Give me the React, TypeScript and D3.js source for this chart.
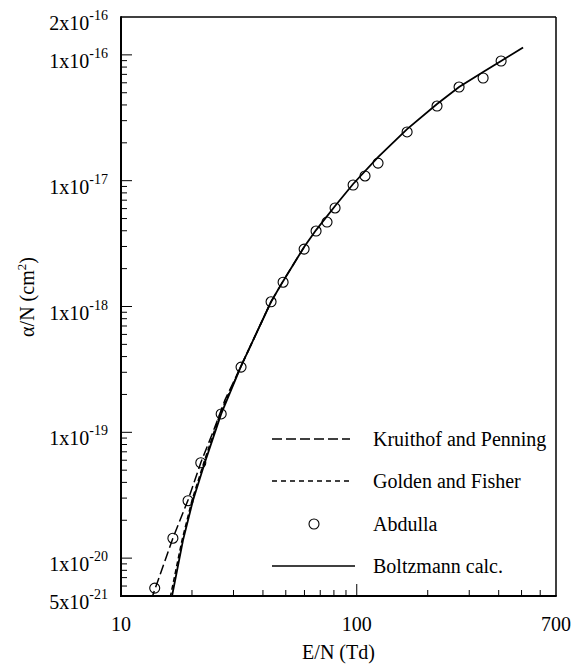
import React from "react";
import * as d3 from "d3";

// Abdulla measurements (E/N in Td, alpha/N in cm^2)
const abdullaX = [13.9, 16.6, 19.25, 21.8, 26.6, 32.3, 43.3, 48.7, 59.8, 67.2, 74.8, 80.9, 96.5, 108.4, 123.1, 163.5, 219, 271.6, 343.5, 409.5];
const abdullaY = [5.78e-21, 1.44e-20, 2.86e-20, 5.73e-20, 1.4e-19, 3.3e-19, 1.09e-18, 1.56e-18, 2.86e-18, 3.98e-18, 4.69e-18, 6.07e-18, 9.24e-18, 1.09e-17, 1.38e-17, 2.44e-17, 3.92e-17, 5.55e-17, 6.55e-17, 8.94e-17];

// Boltzmann calculation
const boltzX = [16.2, 16.46, 18.33, 20.21, 22.72, 26.6, 32.3, 43.3, 48.7, 59.8, 67.2, 80.9, 96.5, 123.1, 163.5, 219, 271.6, 343.5, 409.5, 507.6];
const boltzY = [4.2e-21, 5e-21, 1.39e-20, 2.89e-20, 5.8e-20, 1.4e-19, 3.36e-19, 1.09e-18, 1.59e-18, 2.97e-18, 4.05e-18, 6.29e-18, 9.41e-18, 1.54e-17, 2.57e-17, 4.07e-17, 5.55e-17, 7.31e-17, 8.94e-17, 1.144e-16];

// Kruithof and Penning
const kruiX = [13.4, 16.6, 19.25, 21.85, 24.56, 27.62, 32.3, 43.3, 48.7, 59.8];
const kruiY = [4.6e-21, 1.44e-20, 2.9e-20, 5.8e-20, 1.005e-19, 1.81e-19, 3.36e-19, 1.09e-18, 1.59e-18, 2.97e-18];

// Golden and Fisher
const goldX = [16.0, 16.22, 18.15, 20.01, 22.5, 26.3, 32.3, 43.3];
const goldY = [4.2e-21, 5e-21, 1.39e-20, 2.89e-20, 5.8e-20, 1.4e-19, 3.36e-19, 1.09e-18];

const xTickLabels = [10, 100, 700];
const yLabelValues = [5e-21, 1e-20, 1e-19, 1e-18, 1e-17, 1e-16, 2e-16];
const yLabelMantissa = ["5", "1", "1", "1", "1", "1", "2"];
const yLabelExponent = ["-21", "-20", "-19", "-18", "-17", "-16", "-16"];

const legendNames = ["Kruithof and Penning", "Golden and Fisher", "Abdulla", "Boltzmann calc."];

const W = 573, H = 666;
const L = 121, R = 556, T = 17, B = 596;
const FONT = "'Liberation Serif', 'Times New Roman', serif";

export default function App() {
  const x = d3.scaleLog().domain([10, 700]).range([L, R]);
  const y = d3.scaleLog().domain([5e-21, 2e-16]).range([B, T]);

  const line = d3.line<[number, number]>().x((d) => x(d[0])).y((d) => y(d[1]));
  const zip = (a: number[], b: number[]) => a.map((v, i) => [v, b[i]] as [number, number]);

  const xMinor: number[] = [];
  for (let v = 20; v <= 90; v += 10) xMinor.push(v);
  for (let v = 200; v <= 600; v += 100) xMinor.push(v);
  const yMinor: number[] = [];
  for (let e = -21; e <= -17; e++) {
    for (let m = 2; m <= 9; m++) {
      const v = m * Math.pow(10, e);
      if (v >= 5e-21 && v <= 2e-16) yMinor.push(v);
    }
  }
  const yMajor = [1e-20, 1e-19, 1e-18, 1e-17, 1e-16];

  const legendY = [439, 481, 524, 566];
  const legendDash = ["10,4", "5,4", "", ""];

  return (
    <svg width={W} height={H} style={{ position: "absolute", left: 0, top: 0, background: "#fff" }} fontFamily={FONT}>
      <defs>
        <clipPath id="plot">
          <rect x={L} y={T} width={R - L} height={B - T} />
        </clipPath>
      </defs>
      <rect x={0} y={0} width={W} height={H} fill="#fff" />

      {/* curves */}
      <g clipPath="url(#plot)" fill="none" stroke="#000">
        <path d={line(zip(kruiX, kruiY)) || ""} strokeWidth={1.5} strokeDasharray="10,4" />
        <path d={line(zip(goldX, goldY)) || ""} strokeWidth={1.5} strokeDasharray="5,3" />
        <path d={line(zip(boltzX, boltzY)) || ""} strokeWidth={1.8} />
        {abdullaX.map((v, i) => (
          <circle key={i} cx={x(v)} cy={y(abdullaY[i])} r={5} strokeWidth={1.1} />
        ))}
      </g>

      {/* frame */}
      <g stroke="#000" fill="none">
        <line x1={L} y1={T} x2={R} y2={T} strokeWidth={1.5} />
        <line x1={R} y1={T} x2={R} y2={B} strokeWidth={1.5} />
        <line x1={L} y1={T - 0.75} x2={L} y2={B + 1} strokeWidth={2} />
        <line x1={L - 1} y1={B} x2={R + 0.75} y2={B} strokeWidth={2} />
        {xMinor.map((v) => (
          <line key={"xm" + v} x1={x(v)} x2={x(v)} y1={B} y2={B - 6} strokeWidth={1} />
        ))}
        <line x1={x(100)} x2={x(100)} y1={B} y2={B - 12} strokeWidth={1} />
        {yMinor.map((v, i) => (
          <line key={"ym" + i} x1={L} x2={L + 6} y1={y(v)} y2={y(v)} strokeWidth={1} />
        ))}
        {yMajor.map((v, i) => (
          <line key={"yM" + i} x1={L} x2={L + 11} y1={y(v)} y2={y(v)} strokeWidth={1} />
        ))}
      </g>

      {/* tick labels */}
      <g fontSize={20} fill="#000">
        {xTickLabels.map((v) => (
          <text key={v} x={x(v)} y={631} textAnchor="middle">{v}</text>
        ))}
        {yLabelValues.map((v, i) => (
          <text key={i} x={108} y={y(v) + 13} textAnchor="end">
            {yLabelMantissa[i]}x10
            <tspan dy={-10} fontSize={14}>{yLabelExponent[i]}</tspan>
          </text>
        ))}
      </g>

      {/* axis titles */}
      <text x={(L + R) / 2} y={659} fontSize={20} textAnchor="middle">E/N (Td)</text>
      <text transform="translate(33.5,297) rotate(-90)" fontSize={20} textAnchor="middle">
        α/N (cm<tspan dy={-8} fontSize={13}>2</tspan><tspan dy={8}>)</tspan>
      </text>

      {/* legend */}
      <g fontSize={20}>
        {legendNames.map((n, i) => (
          <g key={n}>
            {i === 2 ? (
              <circle cx={314} cy={legendY[i]} r={5} fill="none" stroke="#000" strokeWidth={1.1} />
            ) : (
              <line x1={272} x2={i === 3 ? 355 : 350} y1={legendY[i]} y2={legendY[i]} stroke="#000"
                strokeWidth={1.6} strokeDasharray={legendDash[i] || undefined} />
            )}
            <text x={373} y={legendY[i] + 7}>{n}</text>
          </g>
        ))}
      </g>
    </svg>
  );
}
